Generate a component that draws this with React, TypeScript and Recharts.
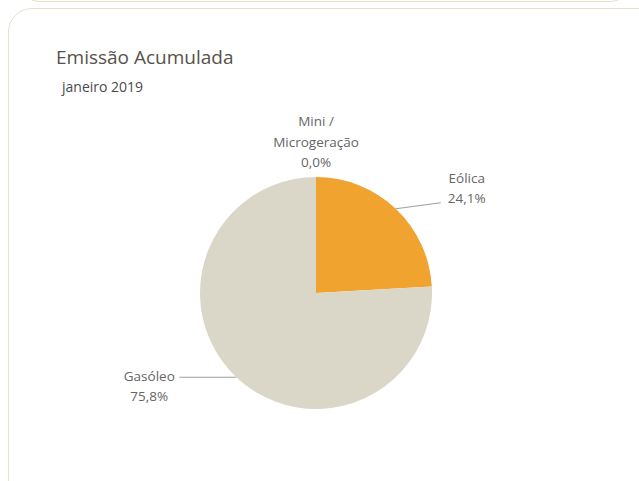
import React from 'react';
import { PieChart, Pie, Cell } from 'recharts';

const categories = ['Eólica', 'Gasóleo', 'Mini / Microgeração'];
const shares = [24.1, 75.8, 0.0];
const colors = ['#F0A32F', '#DAD6C8', '#8C8C8C'];

const data = categories.map((name, i) => ({ name, value: shares[i] }));

const fmt = (v: number) => v.toFixed(1).replace('.', ',') + '%';

const RAD = Math.PI / 180;

const renderLabel = (props: any) => {
  const { cx, cy, midAngle, outerRadius, index } = props;
  const d = data[index];
  const sx = cx + outerRadius * Math.cos(-midAngle * RAD);
  const sy = cy + outerRadius * Math.sin(-midAngle * RAD);
  const txt = { fontFamily: '"Open Sans", sans-serif', fontSize: 13.5, fill: '#666666' };

  if (d.name.startsWith('Mini')) {
    return (
      <g key={index}>
        <text x={sx} y={sy - 51} textAnchor="middle" style={txt}>Mini /</text>
        <text x={sx} y={sy - 30} textAnchor="middle" style={txt}>Microgeração</text>
        <text x={sx} y={sy - 10} textAnchor="middle" style={txt}>{fmt(d.value)}</text>
      </g>
    );
  }
  const right = Math.cos(-midAngle * RAD) >= 0;
  const ex = right ? sx + 45 : sx - 57;
  const ey = right ? sy - 6 : sy;
  const tx = right ? ex + 26 : ex - 30;
  const t1 = right ? ey - 20 : ey + 4;
  const t2 = right ? ey - 0 : ey + 24;
  return (
    <g key={index}>
      <polyline points={`${sx},${sy} ${ex},${ey}`} stroke="#9e9e9e" strokeWidth={1.2} fill="none" />
      <text x={tx} y={t1} textAnchor="middle" style={txt}>{d.name}</text>
      <text x={tx} y={t2} textAnchor="middle" style={txt}>{fmt(d.value)}</text>
    </g>
  );
};

export default function App() {
  return (
    <div style={{ position: 'fixed', left: 0, top: 0, width: 639, height: 481, overflow: 'hidden', background: '#fff' }}>
      <div style={{ position: 'absolute', left: 20, top: -20, width: 610, height: 21, borderBottom: '1.5px solid #e6e0cc', borderRadius: '0 0 20px 20px' }} />
      <div style={{ position: 'absolute', left: 8, top: 8, width: 660, height: 520, border: '1.5px solid #e6e0cc', borderRadius: 24 }} />
      <div style={{ position: 'absolute', left: 56, top: 44, fontFamily: '"Open Sans", sans-serif', fontSize: 19, color: '#57524a', whiteSpace: 'nowrap' }}>
        Emissão Acumulada
      </div>
      <div style={{ position: 'absolute', left: 62, top: 77, fontFamily: '"Open Sans", sans-serif', fontSize: 14, color: '#4a4a4a', whiteSpace: 'nowrap' }}>
        janeiro 2019
      </div>
      <div style={{ position: 'absolute', left: 0, top: 0 }}>
        <PieChart width={639} height={481} margin={{ top: 0, right: 0, bottom: 0, left: 0 }}>
          <Pie
            data={data}
            dataKey="value"
            nameKey="name"
            cx={316}
            cy={293}
            outerRadius={116}
            startAngle={90}
            endAngle={-270}
            stroke="none"
            label={renderLabel}
            labelLine={false}
            isAnimationActive={false}
          >
            {data.map((_, i) => <Cell key={i} fill={colors[i]} />)}
          </Pie>
        </PieChart>
      </div>
    </div>
  );
}
